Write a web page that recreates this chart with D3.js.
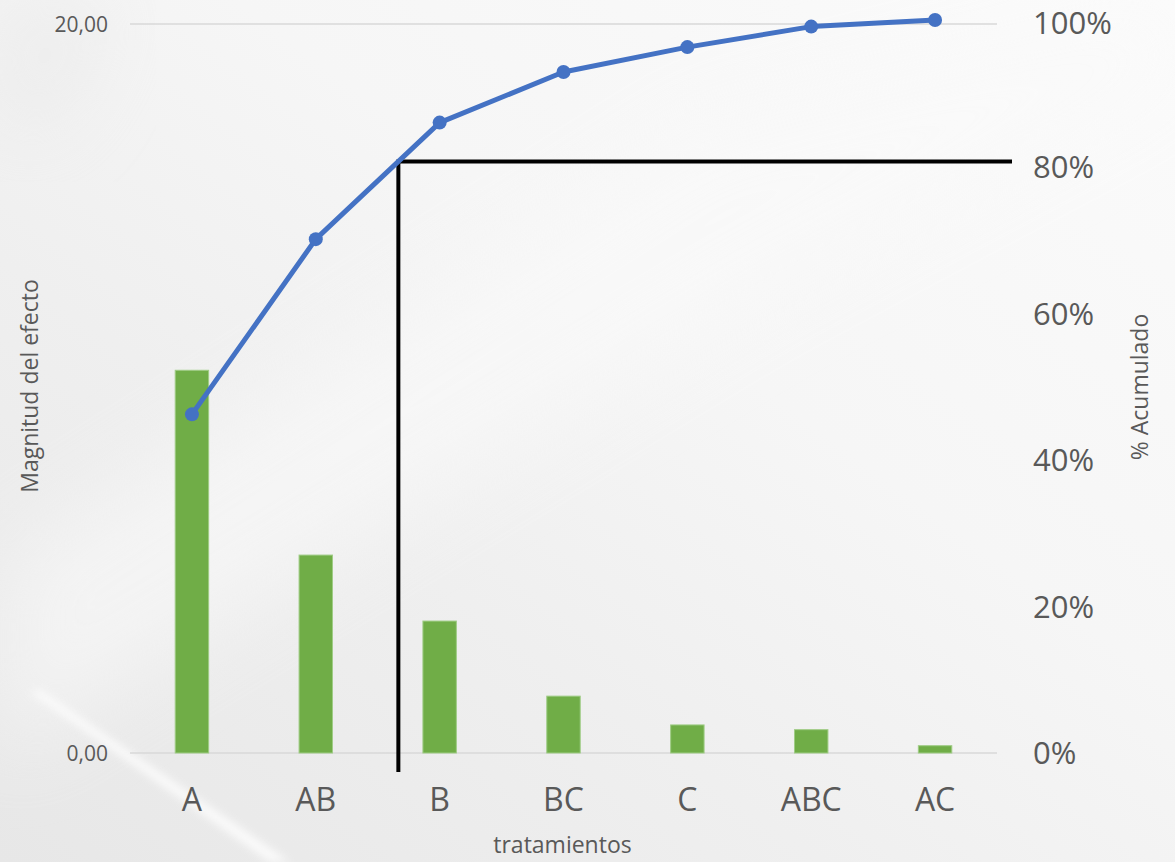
<!DOCTYPE html>
<html>
<head>
<meta charset="utf-8">
<script src="https://cdn.jsdelivr.net/npm/d3@7"></script>
<style>
  html, body { margin: 0; padding: 0; }
  body { width: 1175px; height: 862px; overflow: hidden; }
  svg { display: block; font-family: "Open Sans", "Noto Sans", sans-serif; }
</style>
</head>
<body>
<svg id="chart" width="1175" height="862"></svg>
<script>
// Pareto de efectos: magnitud por tratamiento y porcentaje acumulado
const categories = ["A", "AB", "B", "BC", "C", "ABC", "AC"];
const magnitudes = [10.50, 5.43, 3.62, 1.56, 0.77, 0.64, 0.20];
const cumulative = [0.462, 0.701, 0.860, 0.929, 0.963, 0.991, 1.000];
const leftTicks = [0, 20];
const rightTicks = [0, 0.2, 0.4, 0.6, 0.8, 1.0];
const cutoff = 0.807;

const W = 1175, H = 862;
const plot = { left: 130, right: 997, top: 24, bottom: 753 };
const textColor = "#595959";

const svg = d3.select("#chart");

// fondo gris claro con vetas diagonales
const defs = svg.append("defs");
const bg = defs.append("linearGradient").attr("id", "bg")
  .attr("x1", "0").attr("y1", "1").attr("x2", "1").attr("y2", "0");
bg.append("stop").attr("offset", "0").attr("stop-color", "#e7e7e7");
bg.append("stop").attr("offset", "0.35").attr("stop-color", "#efefef");
bg.append("stop").attr("offset", "0.6").attr("stop-color", "#f6f6f6");
bg.append("stop").attr("offset", "1").attr("stop-color", "#fbfbfb");
const blur = defs.append("filter").attr("id", "soft")
  .attr("x", "-20%").attr("y", "-20%").attr("width", "140%").attr("height", "140%");
blur.append("feGaussianBlur").attr("stdDeviation", 4);
const blurBig = defs.append("filter").attr("id", "softBig")
  .attr("x", "-30%").attr("y", "-30%").attr("width", "160%").attr("height", "160%");
blurBig.append("feGaussianBlur").attr("stdDeviation", 40);

svg.append("rect").attr("width", W).attr("height", H).attr("fill", "url(#bg)");
svg.append("path")
  .attr("d", "M 0 560 L 700 120 L 1175 0 L 1175 80 L 760 300 L 0 760 Z")
  .attr("fill", "#fafafa").attr("opacity", 0.55).attr("filter", "url(#softBig)");
svg.append("path")
  .attr("d", "M 30 692 L 40 690 L 290 862 L 270 862 Z")
  .attr("fill", "#ffffff").attr("opacity", 0.8).attr("filter", "url(#soft)");
svg.append("path")
  .attr("d", "M 0 0 L 120 0 L 60 120 L 0 140 Z")
  .attr("fill", "#e6e6e6").attr("opacity", 0.5).attr("filter", "url(#softBig)");

// escalas
const x = d3.scaleBand().domain(categories)
  .range([plot.left, plot.right]).paddingInner(0.73).paddingOuter(0.365);
const yLeft = d3.scaleLinear().domain([0, 20]).range([plot.bottom, plot.top]);
const yRight = d3.scaleLinear().domain([0, 1]).range([plot.bottom, 20]);
const cx = c => x(c) + x.bandwidth() / 2;

// líneas de cuadrícula
svg.append("g").selectAll("line").data(leftTicks).join("line")
  .attr("x1", plot.left).attr("x2", plot.right)
  .attr("y1", d => yLeft(d)).attr("y2", d => yLeft(d))
  .attr("stroke", "#d9d9d9").attr("stroke-width", 1.5);

// eje izquierdo
const axL = svg.append("g").attr("transform", `translate(${plot.left - 22},0)`)
  .call(d3.axisLeft(yLeft).tickValues(leftTicks).tickSize(0)
    .tickFormat(d => d3.format(".2f")(d).replace(".", ",")));
axL.select(".domain").remove();
axL.selectAll("text").attr("font-size", 21).attr("fill", textColor)
  .attr("font-family", "'Open Sans', sans-serif").attr("x", 0).attr("dy", "0.35em");

// eje derecho
const axR = svg.append("g").attr("transform", `translate(${1033},0)`)
  .call(d3.axisRight(yRight).tickValues(rightTicks).tickSize(0)
    .tickFormat(d3.format(".0%")));
axR.select(".domain").remove();
axR.selectAll("text").attr("font-size", 31).attr("fill", textColor)
  .attr("font-family", "'Open Sans', sans-serif").attr("x", 0).attr("dy", "0.35em");
// la etiqueta superior no debe salirse del borde
axR.selectAll(".tick").each(function () {
  const tick = d3.select(this);
  const ty = +tick.attr("transform").match(/,\s*([-\d.]+)/)[1];
  const box = tick.select("text").node().getBBox();
  if (ty + box.y < 0) tick.select("text").attr("y", -(ty + box.y) + 1);
});

// eje de categorías
const axX = svg.append("g").attr("transform", `translate(0,${plot.bottom})`)
  .call(d3.axisBottom(x).tickSize(0));
axX.select(".domain").remove();
axX.selectAll("text").attr("font-size", 32).attr("fill", textColor)
  .attr("font-family", "'Open Sans', sans-serif").attr("y", 47).attr("dy", "0.35em");

// barras
svg.append("g").selectAll("rect").data(categories).join("rect")
  .attr("x", d => x(d))
  .attr("y", (d, i) => yLeft(magnitudes[i]))
  .attr("width", x.bandwidth())
  .attr("height", (d, i) => yLeft(0) - yLeft(magnitudes[i]))
  .attr("fill", "#70ad47").attr("stroke", "#9fcc85").attr("stroke-width", 1);

// línea de corte al 80 %
const i0 = cumulative.findIndex(v => v >= cutoff);
const t = (cutoff - cumulative[i0 - 1]) / (cumulative[i0] - cumulative[i0 - 1]);
const xCut = cx(categories[i0 - 1]) + t * (cx(categories[i0]) - cx(categories[i0 - 1]));
const yCut = yRight(cutoff);
svg.append("line").attr("x1", xCut).attr("x2", xCut)
  .attr("y1", yCut - 2).attr("y2", plot.bottom + 19)
  .attr("stroke", "#000").attr("stroke-width", 4);
svg.append("line").attr("x1", xCut).attr("x2", 1012)
  .attr("y1", yCut).attr("y2", yCut)
  .attr("stroke", "#000").attr("stroke-width", 4);

// curva acumulada
const line = d3.line().x((d, i) => cx(categories[i])).y(d => yRight(d));
svg.append("path").datum(cumulative).attr("d", line)
  .attr("fill", "none").attr("stroke", "#4472c4").attr("stroke-width", 5)
  .attr("stroke-linejoin", "round");
svg.append("g").selectAll("circle").data(cumulative).join("circle")
  .attr("cx", (d, i) => cx(categories[i])).attr("cy", d => yRight(d))
  .attr("r", 7).attr("fill", "#4472c4");

// títulos de ejes
svg.append("text").attr("x", (plot.left + plot.right) / 2 - 1).attr("y", 847)
  .attr("text-anchor", "middle").attr("dominant-baseline", "middle")
  .attr("font-size", 23).attr("fill", textColor).text("tratamientos");
svg.append("text").attr("transform", "translate(32,386) rotate(-90)")
  .attr("text-anchor", "middle").attr("dominant-baseline", "middle")
  .attr("font-size", 23).attr("fill", textColor).text("Magnitud del efecto");
svg.append("text").attr("transform", "translate(1142,387) rotate(-90)")
  .attr("text-anchor", "middle").attr("dominant-baseline", "middle")
  .attr("font-size", 23).attr("fill", textColor).text("% Acumulado");
</script>
</body>
</html>
